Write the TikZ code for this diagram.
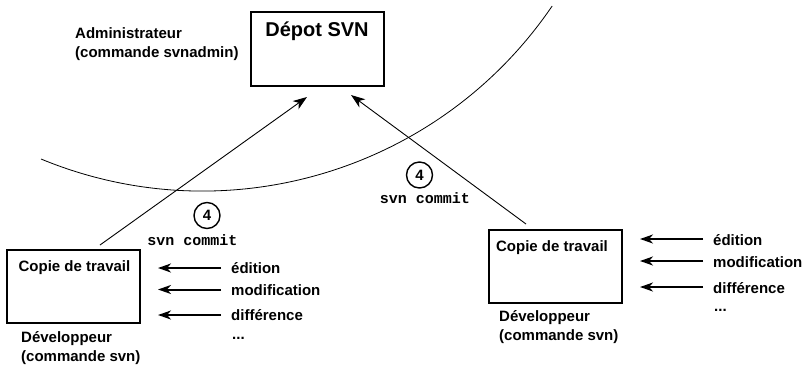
\documentclass[tikz,border=0pt]{standalone}
\usepackage{fontspec}
\setmainfont{Liberation Sans}
\setmonofont{Liberation Mono}
\usetikzlibrary{arrows.meta}
\begin{document}
\begin{tikzpicture}[x=1pt,y=-1pt,
  lbl/.style={font=\fontsize{15}{19}\selectfont\bfseries, inner sep=0pt, align=left},
  cmd/.style={font=\fontsize{15}{18}\selectfont\ttfamily\bfseries, inner sep=0pt},
  boxs/.style={draw, line width=1.2pt},
  num/.style={draw, circle, line width=1.4pt, minimum size=26pt, inner sep=0pt, font=\fontsize{15}{17}\selectfont\bfseries},
  longarr/.style={line width=0.9pt, -{Stealth[length=14pt,width=10pt,inset=4pt]}},
  shortarr/.style={line width=2pt, -{Stealth[length=13pt,width=9pt,inset=4pt]}}]
\useasboundingbox (0,0) rectangle (804,365);

% repository
\node[boxs, minimum width=133pt, minimum height=74pt] (depot) at (317.5,49) {};
\node[inner sep=0pt, font=\fontsize{20}{24}\selectfont\bfseries] (depottitle) at (317,31) {Dépot SVN};
\node[lbl, anchor=west] (admin) at (75,44.5) {Administrateur\\(commande svnadmin)};

% boundary arc
\draw[line width=0.8pt] (41,159) arc[start angle=-112.44, end angle=-34.23, radius=423pt];

% left working copy
\node[boxs, minimum width=133pt, minimum height=73pt] (lbox) at (73.5,286.5) {};
\node[lbl] (ltitle) at (74.5,268) {Copie de travail};
\node[lbl, anchor=west] (ldev) at (21,348) {Développeur\\(commande svn)};

\node[lbl, anchor=west] (led) at (231,268) {édition};
\node[lbl, anchor=west] (lmod) at (231,290) {modification};
\node[lbl, anchor=west] (ldif) at (231,315.5) {différence};
\node[lbl, anchor=west] (ldots) at (232,338) {...};
\coordinate (la1) at (221,268);
\coordinate (la2) at (221,289.5);
\coordinate (la3) at (221,315);
\coordinate (lb1) at (158,268);
\coordinate (lb2) at (158,289.5);
\coordinate (lb3) at (158,315);
\draw[shortarr] (la1) -- (lb1);
\draw[shortarr] (la2) -- (lb2);
\draw[shortarr] (la3) -- (lb3);

\node[num] (lnum) at (207,215.5) {4};
\node[cmd] (lcmd) at (192.5,240) {svn commit};

% right working copy
\node[boxs, minimum width=133pt, minimum height=73pt] (rbox) at (555.5,266.5) {};
\node[lbl] (rtitle) at (552,248) {Copie de travail};
\node[lbl, anchor=west] (rdev) at (499,327) {Développeur\\(commande svn)};

\node[lbl, anchor=west] (red) at (713,240) {édition};
\node[lbl, anchor=west] (rmod) at (713,262) {modification};
\node[lbl, anchor=west] (rdif) at (713,288) {différence};
\node[lbl, anchor=west] (rdots) at (714,310) {...};
\coordinate (ra1) at (703,239);
\coordinate (ra2) at (703,261);
\coordinate (ra3) at (703,287);
\coordinate (rb1) at (640,239);
\coordinate (rb2) at (640,261);
\coordinate (rb3) at (640,287);
\draw[shortarr] (ra1) -- (rb1);
\draw[shortarr] (ra2) -- (rb2);
\draw[shortarr] (ra3) -- (rb3);

\node[num] (rnum) at (419.5,175) {4};
\node[cmd] (rcmd) at (425,198) {svn commit};

% commits
\coordinate (lstart) at (100,245);
\coordinate (ltip) at (307,97);
\coordinate (rstart) at (526,224);
\coordinate (rtip) at (351,95);
\draw[longarr] (lstart) -- (ltip);
\draw[longarr] (rstart) -- (rtip);
\end{tikzpicture}
\end{document}
